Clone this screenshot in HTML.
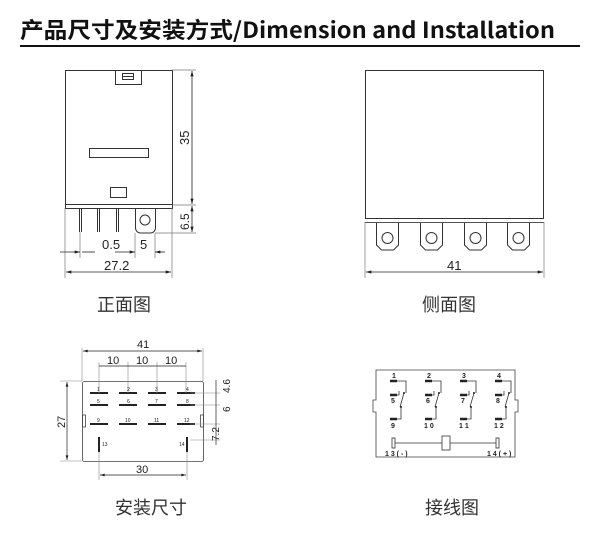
<!DOCTYPE html>
<html><head><meta charset="utf-8"><style>
html,body{margin:0;padding:0;background:#fff;}
svg{display:block;}
.t{font-family:"Liberation Sans","Noto Sans CJK SC",sans-serif;}
.cap{font-family:"Noto Sans CJK SC",sans-serif;font-size:18px;fill:#333;}
</style></head><body>
<svg width="600" height="538" viewBox="0 0 600 538" xmlns="http://www.w3.org/2000/svg">
<defs>
<marker id="a" viewBox="0 0 10 6" refX="10" refY="3" markerWidth="8" markerHeight="4" orient="auto-start-reverse"><path d="M0,0L10,3L0,6z" fill="#222"/></marker>
</defs>
<text x="20" y="38" font-family="'Noto Sans CJK SC',sans-serif" font-weight="bold" font-size="22" fill="#111" textLength="535" lengthAdjust="spacingAndGlyphs">产品尺寸及安装方式/Dimension and  Installation</text>
<rect x="20" y="45" width="560" height="2" fill="#111"/>

<!-- front view -->
<g fill="none" stroke="#333" stroke-width="1">
<rect x="65.5" y="70.5" width="107" height="134"/>
<rect x="65.5" y="204.5" width="107" height="4"/>
<path d="M115.5,70.5V84.5H141.5V70.5"/>
<rect x="122.5" y="73.5" width="11" height="6"/>
<line x1="122.5" y1="76.5" x2="133.5" y2="76.5"/>
<rect x="89.5" y="148.5" width="59" height="9"/>
<rect x="110.5" y="187.5" width="16" height="10"/>
<path d="M79.5,208.5V232M81.5,208.5V232M97.5,208.5V232M99.5,208.5V232M116.5,208.5V232M118.5,208.5V232"/>
<path d="M135.5,208.5V228a5,5 0 0 0 5,5h10a5,5 0 0 0 5,-5V208.5"/>
<circle cx="145" cy="220" r="5"/>
</g>
<g stroke="#777" stroke-width="0.7" fill="none">
<path d="M172,70H196M172,205H196M155,233H196M65,208V278M80,232V258M155,233V258M172,208V278M135,233V258"/>
</g>
<g stroke="#222" stroke-width="0.8">
<line x1="192" y1="71" x2="192" y2="204" marker-start="url(#a)" marker-end="url(#a)"/>
<line x1="192" y1="206" x2="192" y2="232" marker-start="url(#a)" marker-end="url(#a)"/>
<line x1="60" y1="252" x2="80" y2="252" marker-end="url(#a)"/>
<line x1="82" y1="252" x2="95" y2="252"/>
<line x1="115" y1="252" x2="135" y2="252" marker-end="url(#a)"/>
<line x1="155" y1="252" x2="165" y2="252" marker-start="url(#a)"/>
<line x1="66" y1="272" x2="171" y2="272" marker-start="url(#a)" marker-end="url(#a)"/>
</g>
<g class="t" font-size="13" fill="#222">
<text x="102" y="249">0.5</text><text x="140" y="249">5</text>
<text x="104" y="270">27.2</text>
<text transform="translate(189,145) rotate(-90)">35</text>
<text transform="translate(189,230) rotate(-90)" font-size="12">6.5</text>
</g>
<text class="cap" x="97" y="311">正面图</text>

<!-- side view -->
<g fill="none" stroke="#333" stroke-width="1">
<rect x="365.5" y="70.5" width="178" height="148"/>
<line x1="365" y1="222.5" x2="544" y2="222.5" stroke="#555"/>
<g id="tm"><path d="M376.5,223V245l5,5h12l5,-5V223"/><circle cx="387.5" cy="238" r="5.5"/></g>
<use href="#tm" x="44"/><use href="#tm" x="88"/><use href="#tm" x="131"/>
</g>
<g stroke="#777" stroke-width="0.7"><path d="M365,222V278M544,222V278"/></g>
<line x1="366" y1="272" x2="543" y2="272" stroke="#222" stroke-width="0.8" marker-start="url(#a)" marker-end="url(#a)"/>
<text class="t" x="447" y="270" font-size="13" fill="#222">41</text>
<text class="cap" x="422" y="311">侧面图</text>

<!-- bottom view -->
<g fill="none" stroke="#444" stroke-width="0.8">
<rect x="82.5" y="381.5" width="121" height="80" rx="2"/>
<rect x="82.5" y="415" width="3" height="12"/><rect x="200.5" y="415" width="3" height="12"/>
</g>
<g stroke="#222" stroke-width="2">
<path d="M90,393H108M119,393H137M148,393H166M177,393H195M90,405H108M119,405H137M148,405H166M177,405H195M90,424H108M119,424H137M148,424H166M177,424H195M99,437V452M187,437V452"/>
</g>
<g stroke="#888" stroke-width="0.6" fill="none">
<path d="M82,348V381M203,348V381M99,362V393M128,362V393M157,362V393M186,362V393M60,381H82M60,461H82M99,452V480M187,452V480M190,393H220M190,405H220M190,424H220M190,440H220"/>
</g>
<g stroke="#222" stroke-width="0.7">
<line x1="83" y1="351" x2="202" y2="351" marker-start="url(#a)" marker-end="url(#a)"/>
<line x1="99" y1="366" x2="186" y2="366"/>
<line x1="67" y1="382" x2="67" y2="460" marker-start="url(#a)" marker-end="url(#a)"/>
<line x1="100" y1="475" x2="186" y2="475" marker-start="url(#a)" marker-end="url(#a)"/>
<line x1="216" y1="380" x2="216" y2="445"/>
</g>
<g class="t" fill="#222">
<text x="137" y="348" font-size="11">41</text>
<text x="107" y="364" font-size="11">10</text><text x="136" y="364" font-size="11">10</text><text x="165" y="364" font-size="11">10</text>
<text transform="translate(65,428) rotate(-90)" font-size="11">27</text>
<text x="136" y="473" font-size="11">30</text>
<text transform="translate(230,393) rotate(-90)" font-size="10">4.6</text>
<text transform="translate(230,412) rotate(-90)" font-size="10">6</text>
<text transform="translate(219,441) rotate(-90)" font-size="10">7.2</text>
<g font-size="5"><text x="97" y="391">1</text><text x="127" y="391">2</text><text x="155" y="391">3</text><text x="186" y="391">4</text>
<text x="97" y="403">5</text><text x="127" y="403">6</text><text x="155" y="403">7</text><text x="186" y="403">8</text>
<text x="97" y="422">9</text><text x="125" y="422">10</text><text x="154" y="422">11</text><text x="184" y="422">12</text>
<text x="102" y="446">13</text><text x="179" y="446">14</text></g>
</g>
<text class="cap" x="115" y="514">安装尺寸</text>

<!-- wiring -->
<g fill="none" stroke="#444" stroke-width="0.8">
<path d="M376,370H515V400H518V412H515V457H376V412H373V400H376Z"/>
</g>
<g id="sw">
<g stroke="#222" stroke-width="2.5"><path d="M390,381H397M390,395H397M390,419H397"/></g>
<g stroke="#333" stroke-width="0.8" fill="none"><path d="M397,381H406V393M397,395H399V391M404,393L400,407M401,407V419H397"/></g>
<circle cx="404" cy="393" r="1" fill="#222"/><circle cx="401" cy="407" r="1" fill="#222"/>
</g>
<use href="#sw" x="35"/><use href="#sw" x="70"/><use href="#sw" x="105"/>
<g stroke="#333" stroke-width="0.8" fill="none">
<rect x="392" y="438" width="3" height="10"/><rect x="496" y="438" width="3" height="10"/>
<rect x="442" y="436" width="8" height="14"/>
<path d="M395,443H442M450,443H496"/>
</g>
<g class="t" font-size="7" fill="#222" font-weight="bold">
<text x="392" y="378">1</text><text x="427" y="378">2</text><text x="462" y="378">3</text><text x="497" y="378">4</text>
<text x="391" y="403">5</text><text x="426" y="403">6</text><text x="461" y="403">7</text><text x="496" y="403">8</text>
<text x="391" y="428">9</text><text x="424" y="428">1 0</text><text x="459" y="428">1 1</text><text x="494" y="428">1 2</text>
<text x="385" y="456">1 3 ( - )</text><text x="487" y="456">1 4 ( + )</text>
</g>
<text class="cap" x="425" y="514">接线图</text>
</svg>
</body></html>
